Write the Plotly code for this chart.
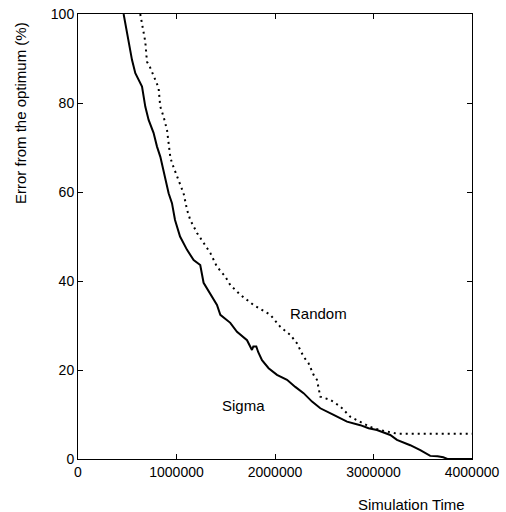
import plotly.graph_objects as go

# Sigma (solid) curve
sigma_x = [0.463, 0.497, 0.548, 0.582, 0.650, 0.683, 0.717, 0.767, 0.802, 0.836,
           0.869, 0.920, 0.954, 0.985, 1.036, 1.107, 1.174, 1.241, 1.275, 1.343,
           1.411, 1.445, 1.546, 1.614, 1.716, 1.766, 1.780, 1.810, 1.830, 1.868,
           1.935, 2.020, 2.122, 2.206, 2.290, 2.376, 2.460, 2.595, 2.731, 2.866,
           2.950, 3.035, 3.170, 3.238, 3.373, 3.475, 3.576, 3.650, 3.708, 3.750,
           4.000]
sigma_y = [100.0, 95.7, 89.7, 86.7, 83.7, 79.2, 76.2, 73.3, 70.2, 67.9,
           64.9, 59.7, 57.5, 53.7, 50.0, 47.0, 44.7, 43.6, 39.6, 37.2,
           34.6, 32.4, 30.6, 28.6, 26.7, 24.5, 25.3, 25.3, 24.0, 22.2,
           20.4, 18.9, 17.8, 16.2, 14.8, 12.9, 11.4, 9.9, 8.4, 7.6,
           6.9, 6.5, 5.4, 4.3, 3.1, 2.0, 0.7, 0.6, 0.4, 0.0,
           0.0]

# Random (dotted) curve
random_x = [0.632, 0.650, 0.683, 0.700, 0.734, 0.785, 0.818, 0.835, 0.869, 0.904,
            0.920, 0.937, 0.954, 1.005, 1.072, 1.107, 1.140, 1.208, 1.275, 1.343,
            1.411, 1.495, 1.546, 1.648, 1.783, 1.952, 2.054, 2.155, 2.223, 2.290,
            2.341, 2.392, 2.426, 2.443, 2.460, 2.561, 2.663, 2.764, 2.866, 2.967,
            3.069, 3.238, 4.000]
random_y = [100.0, 97.5, 93.8, 89.3, 87.9, 85.2, 83.4, 79.2, 76.9, 73.9,
            71.3, 67.9, 66.5, 63.4, 59.7, 56.0, 53.7, 50.8, 48.5, 46.3,
            43.2, 41.0, 39.1, 36.9, 34.6, 32.4, 29.7, 27.9, 26.0, 23.0,
            21.5, 18.9, 17.8, 15.9, 14.0, 13.3, 11.8, 9.5, 8.4, 7.2,
            6.5, 5.7, 5.7]

x_tickvals = [0, 1000000, 2000000, 3000000, 4000000]
x_ticktext = ["0", "1000000", "2000000", "3000000", "4000000"]
y_tickvals = [0, 20, 40, 60, 80, 100]

FONT = "Liberation Sans, Arial, Helvetica, sans-serif"

fig = go.Figure()
fig.add_trace(go.Scatter(
    x=[v * 1e6 for v in sigma_x], y=sigma_y, mode="lines",
    line=dict(color="black", width=2), showlegend=False))
fig.add_trace(go.Scatter(
    x=[v * 1e6 for v in random_x], y=random_y, mode="lines",
    line=dict(color="black", width=2, dash="2px,4px"), showlegend=False))

fig.add_annotation(x=2.44e6, y=32.8, text="Random", showarrow=False,
                   xanchor="center", yanchor="middle",
                   font=dict(family=FONT, size=15, color="black"))
fig.add_annotation(x=1.68e6, y=12.1, text="Sigma", showarrow=False,
                   xanchor="center", yanchor="middle",
                   font=dict(family=FONT, size=15, color="black"))
fig.add_annotation(xref="paper", yref="paper", x=(411 - 78) / 394, y=-(504 - 459) / 445,
                   text="Simulation Time", showarrow=False,
                   xanchor="center", yanchor="middle",
                   font=dict(family=FONT, size=15, color="black"))
fig.add_annotation(xref="paper", yref="paper", x=-(78 - 20) / 394, y=(459 - 113) / 445,
                   text="Error from the optimum (%)", showarrow=False, textangle=-90,
                   xanchor="center", yanchor="middle",
                   font=dict(family=FONT, size=15, color="black"))

axis_common = dict(showgrid=False, zeroline=False, showline=True, linecolor="black",
                   linewidth=1, mirror="ticks", ticks="inside", ticklen=5,
                   tickcolor="black", automargin=False,
                   tickfont=dict(family=FONT, size=14, color="black"))

fig.update_xaxes(range=[0, 4e6], tickvals=x_tickvals, ticktext=x_ticktext, **axis_common)
fig.update_yaxes(range=[0, 100], tickvals=y_tickvals, **axis_common)

fig.update_layout(width=506, height=512, margin=dict(l=78, r=34, t=14, b=53),
                  plot_bgcolor="white", paper_bgcolor="white",
                  font=dict(family=FONT, size=14, color="black"))

fig.write_html("out.html", config={"displayModeBar": False},
               post_script="document.body.style.margin='0';document.body.style.padding='0';"
                           "document.documentElement.style.overflow='hidden';")
